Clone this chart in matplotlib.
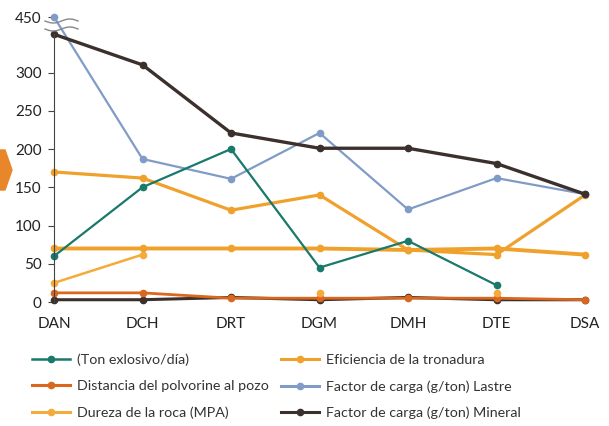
import numpy as np
import matplotlib
matplotlib.use('Agg')
import matplotlib.pyplot as plt
from matplotlib.patches import Polygon

plt.rcParams['font.family'] = ['Lato', 'DejaVu Sans']

minas = ['DAN', 'DCH', 'DRT', 'DGM', 'DMH', 'DTE', 'DSA']

ton_explosivo = [60, 150, 200, 45, 80, 22, np.nan]
eficiencia = [70, 70, 70, 70, 68, 70, 62]
eficiencia_b = [170, 162, 120, 140, 68, 62, 140]
distancia = [12, 12, 5, 5, 5, 5, 3]
dureza = [25, 62, np.nan, 12, np.nan, 12, np.nan]
lastre = [450, 187, 161, 221, 121, 162, 141]
mineral = [350, 310, 221, 201, 201, 181, 141]
mineral_b = [3, 3, 6, 3, 6, 3, 3]

yticks = [0, 50, 100, 150, 200, 250, 300, 450]

# escala con corte: por encima de 350 se comprime
def fwd(y):
    y = np.asarray(y, dtype=float)
    return np.where(y <= 350, y, 350 + (y - 350) * 0.225)

def inv(y):
    y = np.asarray(y, dtype=float)
    return np.where(y <= 350, y, 350 + (y - 350) / 0.225)

fig = plt.figure(figsize=(6.09, 4.26), dpi=100)
ax = fig.add_axes([54 / 609, 0.291, 531 / 609, 0.669])
ax.set_yscale('function', functions=(fwd, inv))

x = np.arange(len(minas))
kw = dict(marker='o', markersize=4.5, clip_on=False)
ax.plot(x, mineral_b, color='#3b302c', lw=2.2, **kw)
ax.plot(x, distancia, color='#d9671e', lw=2.0, **kw)
ax.plot(x, dureza, color='#f5ab3c', lw=1.8, **kw)
ax.plot(x, eficiencia_b, color='#f0a12c', lw=2.3, **kw)
ax.plot(x, eficiencia, color='#f0a12c', lw=2.8, **kw)
ax.plot(x, lastre, color='#809cc6', lw=1.6, **kw)
ax.plot(x, ton_explosivo, color='#19796b', lw=1.6, **kw)
ax.plot(x, mineral, color='#3b302c', lw=2.4, **kw)

ax.set_xlim(0, 6)
ax.set_ylim(0, 450)
ax.set_xticks(x)
ax.set_xticklabels(minas, fontsize=11, color='#222222')
ax.set_yticks(yticks)
ax.set_yticklabels([str(t) for t in yticks], fontsize=11, color='#222222')
ax.tick_params(axis='x', length=0, pad=11)
ax.tick_params(axis='y', length=4, width=0.8, color='#444444', pad=5)
for s in ['top', 'right', 'bottom']:
    ax.spines[s].set_visible(False)
ax.spines['left'].set_bounds(0, 352)
ax.spines['left'].set_color('#444444')

# marcas de corte del eje
for yp in [21, 29]:
    xs = np.linspace(45, 78, 40)
    ys = yp + 2.0 * np.sin((xs - 45) / 33 * 2 * np.pi)
    fig.add_artist(plt.Line2D(xs / 609, 1 - ys / 426, color='#888888', lw=1.0))

# flecha decorativa a la izquierda
fig.add_artist(Polygon([(0, 1 - 150 / 426), (5 / 609, 1 - 150 / 426), (12 / 609, 1 - 170 / 426),
                        (5 / 609, 1 - 190 / 426), (0, 1 - 190 / 426)],
                       closed=True, transform=fig.transFigure, color='#e8862a'))

handles = [
    plt.Line2D([], [], color='#19796b', lw=1.8, marker='o', markersize=4.5),
    plt.Line2D([], [], color='#d9671e', lw=2.2, marker='o', markersize=4.5),
    plt.Line2D([], [], color='#f5ab3c', lw=2.2, marker='o', markersize=4.5),
    plt.Line2D([], [], color='#f0a12c', lw=2.2, marker='o', markersize=4.5),
    plt.Line2D([], [], color='#809cc6', lw=2.2, marker='o', markersize=4.5),
    plt.Line2D([], [], color='#3b302c', lw=2.2, marker='o', markersize=4.5),
]
labels = ['(Ton exlosivo/día)', 'Distancia del polvorine al pozo', 'Dureza de la roca (MPA)',
          'Eficiencia de la tronadura', 'Factor de carga (g/ton) Lastre', 'Factor de carga (g/ton) Mineral']
fig.legend(handles, labels, ncol=2, loc='upper left', bbox_to_anchor=(0.032, 0.2),
           frameon=False, fontsize=10.3, handlelength=2.6, columnspacing=0.9,
           labelspacing=0.98, handletextpad=0.5, labelcolor='#333333')

fig.savefig('out.png', dpi=100, facecolor='white')
